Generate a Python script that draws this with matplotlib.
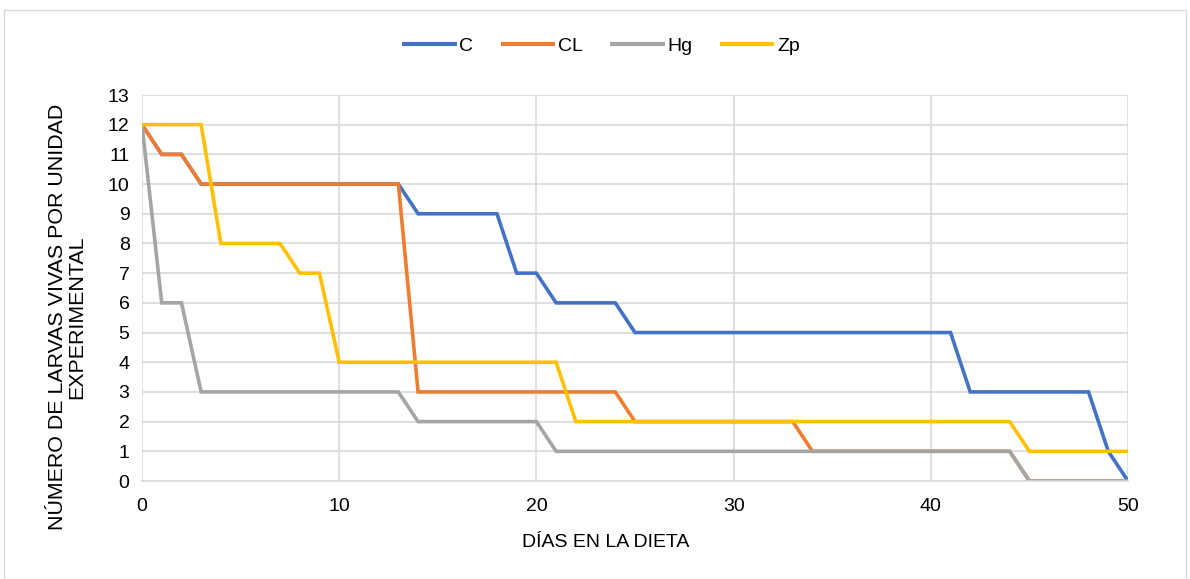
import matplotlib
matplotlib.use("Agg")
import matplotlib.pyplot as plt
from matplotlib.patches import Rectangle

plt.rcParams['font.family'] = ['Liberation Sans', 'DejaVu Sans']

days = list(range(0, 51))
C  = [12, 11, 11, 10, 10, 10, 10, 10, 10, 10, 10, 10, 10, 10, 9, 9, 9, 9, 9, 7, 7,
      6, 6, 6, 6, 5, 5, 5, 5, 5, 5, 5, 5, 5, 5, 5, 5, 5, 5, 5, 5,
      5, 3, 3, 3, 3, 3, 3, 3, 1, 0]
CL = [12, 11, 11, 10, 10, 10, 10, 10, 10, 10, 10, 10, 10, 10, 3, 3, 3, 3, 3, 3, 3,
      3, 3, 3, 3, 2, 2, 2, 2, 2, 2, 2, 2, 2, 1, 1, 1, 1, 1, 1, 1,
      1, 1, 1, 1, 0, 0, 0, 0, 0, 0]
Hg = [12, 6, 6, 3, 3, 3, 3, 3, 3, 3, 3, 3, 3, 3, 2, 2, 2, 2, 2, 2, 2,
      1, 1, 1, 1, 1, 1, 1, 1, 1, 1, 1, 1, 1, 1, 1, 1, 1, 1, 1, 1,
      1, 1, 1, 1, 0, 0, 0, 0, 0, 0]
Zp = [12, 12, 12, 12, 8, 8, 8, 8, 7, 7, 4, 4, 4, 4, 4, 4, 4, 4, 4, 4, 4,
      4, 2, 2, 2, 2, 2, 2, 2, 2, 2, 2, 2, 2, 2, 2, 2, 2, 2, 2, 2,
      2, 2, 2, 2, 1, 1, 1, 1, 1, 1]

series = [("C", C, "#4472C4"), ("CL", CL, "#ED7D31"),
          ("Hg", Hg, "#A5A5A5"), ("Zp", Zp, "#FFC000")]

W, H = 1190, 579
fig = plt.figure(figsize=(W / 100, H / 100), dpi=100)
ax = fig.add_axes([142/W, 1-481/H, (1128-142)/W, (481-95)/H])

for name, vals, col in series:
    ax.plot(days, vals, color=col, lw=2.6, label=name, solid_joinstyle='miter',
            solid_capstyle='butt')

ax.set_xlim(0, 50)
ax.set_ylim(0, 13)
ax.set_xticks(range(0, 51, 10))
ax.set_yticks(range(0, 14))
ax.grid(True, color="#D9D9D9", lw=1.2)
ax.set_axisbelow(True)
for s in ['top', 'right', 'left']:
    ax.spines[s].set_visible(False)
ax.spines['bottom'].set_color("#D9D9D9")
ax.spines['bottom'].set_linewidth(1.2)
ax.tick_params(length=0, labelsize=14, colors="#000000")
ax.tick_params(axis='x', pad=12)
ax.tick_params(axis='y', pad=9)

fig.text(606/W, 1-547/H, "DÍAS EN LA DIETA", fontsize=14, ha='center', va='baseline')
fig.text(67/W, 1-317/H, "NÚMERO DE LARVAS VIVAS POR UNIDAD\nEXPERIMENTAL",
         fontsize=15.4, rotation=90, ha='center', va='center',
         multialignment='center', linespacing=1.0)

leg = fig.legend(loc='center', bbox_to_anchor=(601/W, 1-46/H), ncol=4,
                 frameon=False, fontsize=14, handlelength=2.8, handletextpad=0.15,
                 columnspacing=1.4)
for h in leg.get_lines():
    h.set_linewidth(3)

fig.patches.append(Rectangle((4/W, 0), 1182/W, 1-10/H, transform=fig.transFigure,
                             fill=False, edgecolor="#D9D9D9", lw=1))

fig.savefig("out.png", dpi=100)
